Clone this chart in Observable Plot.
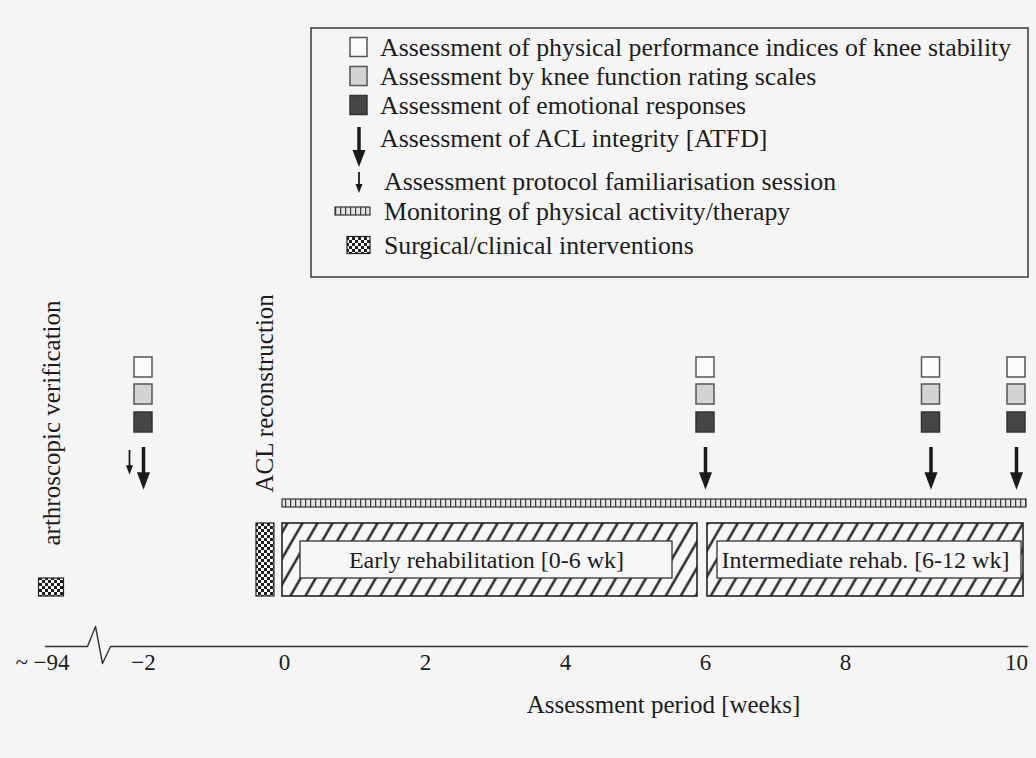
<!DOCTYPE html>
<html>
<head>
<meta charset="utf-8">
<script src="https://cdn.jsdelivr.net/npm/d3@7"></script>
<script src="https://cdn.jsdelivr.net/npm/@observablehq/plot@0.6"></script>
<style>
  html, body { margin: 0; padding: 0; background: #f5f5f5; }
  #page { position: relative; width: 1036px; height: 758px; overflow: hidden; font-family: "Liberation Serif", "Times New Roman", serif; }
  #legend { position: absolute; left: 310px; top: 27px; }
  #chart { position: absolute; left: 0; top: 280px; }
  #defs { position: absolute; left: 0; top: 0; width: 0; height: 0; }
</style>
</head>
<body>
<svg id="defs" width="0" height="0">
  <defs>
    <pattern id="hatch" patternUnits="userSpaceOnUse" width="13" height="13" patternTransform="rotate(30)">
      <rect width="13" height="13" fill="#f7f7f7"/>
      <line x1="6.5" y1="-1" x2="6.5" y2="14" stroke="#1a1a1a" stroke-width="2.3"/>
    </pattern>
    <pattern id="checker" patternUnits="userSpaceOnUse" width="6" height="6">
      <rect width="6" height="6" fill="#fbfbfb"/>
      <rect width="3" height="3" fill="#1e1e1e"/>
      <rect x="3" y="3" width="3" height="3" fill="#1e1e1e"/>
    </pattern>
    <pattern id="monitor" patternUnits="userSpaceOnUse" width="5" height="10">
      <rect width="5" height="10" fill="#e4e4e4"/>
      <line x1="0.6" y1="0" x2="0.6" y2="10" stroke="#3a3a3a" stroke-width="1.2"/>
    </pattern>
  </defs>
</svg>
<div id="page"><div id="legend"></div><div id="chart"></div></div>
<script>
// ---------------- DATA ----------------
const tickWeeks = [-94, -2, 0, 2, 4, 6, 8, 10];
const tickLabels = ["~ \u221294", "\u22122", "0", "2", "4", "6", "8", "10"];
const axisTitle = "Assessment period [weeks]";

const assessmentWeeks = [-2, 6, 9, 10];          // squares (all three assessment types)
const assessmentTypes = ["physical", "rating", "emotional"];
const atfdWeeks = [-2, 6, 9, 10];                // ACL integrity (big arrows)
const familiarisationWeeks = [-2];               // familiarisation session (small arrow, same visit)

const phaseLabels = ["Early rehabilitation [0-6 wk]", "Intermediate rehab. [6-12 wk]"];
const phaseStart = [0, 6];
const phaseEnd = [6, 12];

const monitoringStart = [0];
const monitoringEnd = [12];

const interventionWeeks = [-94, -0.27];
const interventionLabels = ["arthroscopic verification", "ACL reconstruction"];

const legendLabels = [
  "Assessment of physical performance indices of knee stability",
  "Assessment by knee function rating scales",
  "Assessment of emotional responses",
  "Assessment of ACL integrity [ATFD]",
  "Assessment protocol familiarisation session",
  "Monitoring of physical activity/therapy",
  "Surgical/clinical interventions"
];
const legendKinds = ["physical", "rating", "emotional", "atfd", "familiar", "monitor", "checker"];

// ---------------- LAYOUT / STYLE ----------------
const AXIS_END = 10;
const X_RANGE = [51, 143, 284, 425, 565, 705, 845, 1016];
const FONT = "Liberation Serif, Times New Roman, serif";
const INK = "#1c1c1c";
const typeFill = {physical: "#fbfbfb", rating: "#d4d4d4", emotional: "#464646"};
const lanes = {physical: [77, 97], rating: [104, 124], emotional: [132, 152]};
const L = {
  axisY: 366,
  axisBreak: [[-100, 0], [-58, 0], [-50, -20], [-43, 17], [-35, 0], [10.13, 0]],
  tickY: 382, titleY: 424, titleWeek: 5.4,
  monitor: [219, 227],
  boxY: [243, 316], innerY: [261, 298], phaseTextY: 280,
  phaseBox: [
    {outer: [-2, 8], inner: [18, 25], textDx: -9},
    {outer: [2, -7], inner: [10, 2], textDx: 20}
  ],
  interventionBox: [{half: 12.5, y1: 298, y2: 316}, {half: 9, y1: 243, y2: 316}],
  eventTextBottom: [265, 212],
  bigShaft: [167, 196], bigHeadY: 200.5, bigHeadR: 6.5,
  smallShaft: [170, 188], smallHeadY: 189.5, smallHeadR: 3.5, smallDx: -14
};

const triangleDown = {
  draw(context, size) {
    const r = Math.sqrt(size / Math.PI);
    const h = r * 1.35;
    context.moveTo(-r, -h);
    context.lineTo(r, -h);
    context.lineTo(0, h);
    context.closePath();
  }
};

const phases = phaseLabels.map((label, i) => ({label, start: phaseStart[i], end: phaseEnd[i]}));
const monitoring = monitoringStart.map((s, i) => ({start: s, end: monitoringEnd[i]}));
const interventions = interventionWeeks.map((w, i) => ({week: w, label: interventionLabels[i]}));
const ticks = tickWeeks.map((w, i) => ({w, label: tickLabels[i]}));
const axisPts = L.axisBreak.map(([w, dy]) => ({w, y: L.axisY + dy}));
const visEnd = d => Math.min(d.end, AXIS_END);

const marks = [];

// axis line with break
marks.push(Plot.line(axisPts, {x: "w", y: "y", stroke: "#333", strokeWidth: 1.4}));
marks.push(Plot.text(ticks.slice(0, 1), {x: "w", y: L.tickY, text: "label", dx: -9, fontSize: 23, fontFamily: FONT, fill: INK}));
marks.push(Plot.text(ticks.slice(1), {x: "w", y: L.tickY, text: "label", fontSize: 23, fontFamily: FONT, fill: INK}));
marks.push(Plot.text([axisTitle], {x: L.titleWeek, y: L.titleY, text: d => d, fontSize: 25, fontFamily: FONT, fill: INK}));

// monitoring bar
marks.push(Plot.rect(monitoring, {x1: "start", x2: visEnd, y1: L.monitor[0], y2: L.monitor[1],
  fill: "url(#monitor)", stroke: "#333", strokeWidth: 1.2, insetLeft: -2, insetRight: -10}));

// rehabilitation phases
phases.forEach((p, i) => {
  const b = L.phaseBox[i];
  marks.push(Plot.rect([p], {x1: "start", x2: visEnd, y1: L.boxY[0], y2: L.boxY[1],
    fill: "url(#hatch)", stroke: "#222", strokeWidth: 1.6, insetLeft: b.outer[0], insetRight: b.outer[1]}));
  marks.push(Plot.rect([p], {x1: "start", x2: visEnd, y1: L.innerY[0], y2: L.innerY[1],
    fill: "#f7f7f7", stroke: "#333", strokeWidth: 1.3,
    insetLeft: b.outer[0] + b.inner[0], insetRight: b.outer[1] + b.inner[1]}));
  marks.push(Plot.text([p], {x: d => (d.start + visEnd(d)) / 2, y: L.phaseTextY, text: "label", dx: b.textDx,
    fontSize: 24, fontFamily: FONT, fill: INK}));
});

// interventions
interventions.forEach((iv, i) => {
  const b = L.interventionBox[i];
  marks.push(Plot.rect([iv], {x1: "week", x2: "week", y1: b.y1, y2: b.y2, fill: "url(#checker)",
    stroke: "#222", strokeWidth: 1.2, insetLeft: -b.half, insetRight: -b.half}));
});
marks.push(Plot.text(interventions, {x: "week", y: (d, i) => L.eventTextBottom[i], text: "label", rotate: -90,
  textAnchor: "start", lineAnchor: "middle", fontSize: 25, fontFamily: FONT, fill: INK}));

// assessment squares
assessmentTypes.forEach(t => {
  marks.push(Plot.rect(assessmentWeeks, {x1: d => d, x2: d => d, y1: lanes[t][0], y2: lanes[t][1],
    fill: typeFill[t], stroke: t === "emotional" ? "#333" : "#555", strokeWidth: 1.5, insetLeft: -9, insetRight: -9}));
});

// ATFD arrows
marks.push(Plot.ruleX(atfdWeeks, {x: d => d, y1: L.bigShaft[0], y2: L.bigShaft[1], stroke: "#1a1a1a", strokeWidth: 3.5}));
marks.push(Plot.dot(atfdWeeks, {x: d => d, y: L.bigHeadY, r: L.bigHeadR, symbol: triangleDown, fill: "#1a1a1a", stroke: "none"}));
// familiarisation arrow (drawn just left of the same visit)
marks.push(Plot.ruleX(familiarisationWeeks, {x: d => d, dx: L.smallDx, y1: L.smallShaft[0], y2: L.smallShaft[1], stroke: "#1a1a1a", strokeWidth: 1.8}));
marks.push(Plot.dot(familiarisationWeeks, {x: d => d, dx: L.smallDx, y: L.smallHeadY, r: L.smallHeadR, symbol: triangleDown, fill: "#1a1a1a", stroke: "none"}));

const chart = Plot.plot({
  width: 1036, height: 478, margin: 0,
  style: {background: "transparent", fontFamily: FONT, color: INK, overflow: "visible"},
  x: {type: "linear", domain: tickWeeks, range: X_RANGE, axis: null},
  y: {type: "identity", axis: null},
  marks
});
document.getElementById("chart").appendChild(chart);

// ---------------- LEGEND ----------------
const lg = d3.select("#legend").append("svg").attr("width", 720).attr("height", 252).style("overflow", "visible");
lg.append("rect").attr("x", 1).attr("y", 1).attr("width", 717).attr("height", 249)
  .attr("fill", "#f5f5f5").attr("stroke", "#3a3a3a").attr("stroke-width", 1.5);
const rowY = [20, 49, 78, 111, 154, 184, 218];
const textX = [70, 70, 70, 70, 74, 74, 74];
legendKinds.forEach((k, i) => {
  const cy = rowY[i];
  if (k in typeFill) {
    lg.append("rect").attr("x", 40).attr("y", cy - 9.5).attr("width", 17).attr("height", 19)
      .attr("fill", typeFill[k]).attr("stroke", k === "emotional" ? "#333" : "#555").attr("stroke-width", 1.5);
  } else if (k === "atfd") {
    lg.append("line").attr("x1", 49).attr("x2", 49).attr("y1", 100).attr("y2", 126).attr("stroke", "#1a1a1a").attr("stroke-width", 3.5);
    lg.append("path").attr("d", "M42.5,123 L55.5,123 L49,140 Z").attr("fill", "#1a1a1a");
  } else if (k === "familiar") {
    lg.append("line").attr("x1", 49).attr("x2", 49).attr("y1", 145).attr("y2", 158).attr("stroke", "#1a1a1a").attr("stroke-width", 1.8);
    lg.append("path").attr("d", "M45.5,157 L52.5,157 L49,166 Z").attr("fill", "#1a1a1a");
  } else if (k === "monitor") {
    lg.append("rect").attr("x", 25).attr("y", cy - 4).attr("width", 35).attr("height", 8)
      .attr("fill", "url(#monitor)").attr("stroke", "#333").attr("stroke-width", 1.2);
  } else if (k === "checker") {
    lg.append("rect").attr("x", 37).attr("y", cy - 8.5).attr("width", 23).attr("height", 17)
      .attr("fill", "url(#checker)").attr("stroke", "#222").attr("stroke-width", 1.2);
  }
  lg.append("text").attr("x", textX[i]).attr("y", cy).attr("dy", "0.35em")
    .attr("font-family", FONT).attr("font-size", 25.8).attr("fill", INK).text(legendLabels[i]);
});
</script>
</body>
</html>
